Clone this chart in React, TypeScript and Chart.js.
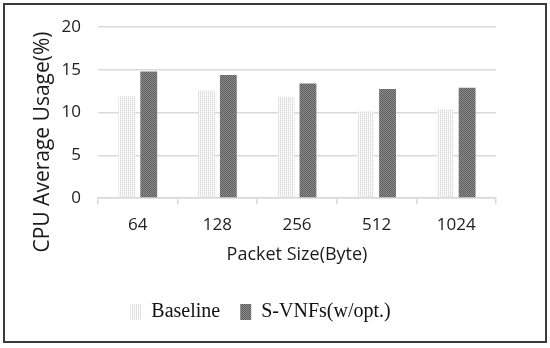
import React, { useEffect, useRef } from "react";
import { Chart, registerables } from "chart.js";

Chart.register(...registerables);

const categories = ["64", "128", "256", "512", "1024"];
const baselineValues = [11.9, 12.6, 11.85, 10.2, 10.4];
const svnfValues = [14.8, 14.4, 13.4, 12.75, 12.9];
const seriesNames = ["Baseline", "S-VNFs(w/opt.)"];
const yTitle = "CPU Average Usage(%)";
const xTitle = "Packet Size(Byte)";

function makePattern(kind: "light" | "dark"): CanvasPattern | string {
  const c = document.createElement("canvas");
  c.width = 2;
  c.height = 2;
  const ctx = c.getContext("2d");
  if (!ctx) return kind === "light" ? "#eeeeee" : "#777777";
  if (kind === "light") {
    ctx.fillStyle = "#fbfbfb";
    ctx.fillRect(0, 0, 2, 2);
    ctx.fillStyle = "#d6d6d6";
    ctx.fillRect(0, 0, 1, 1);
    ctx.fillStyle = "#ececec";
    ctx.fillRect(0, 1, 1, 1);
  } else {
    ctx.fillStyle = "#8c8c8c";
    ctx.fillRect(0, 0, 2, 2);
    ctx.fillStyle = "#5e5e5e";
    ctx.fillRect(0, 0, 1, 1);
    ctx.fillRect(1, 1, 1, 1);
  }
  return ctx.createPattern(c, "repeat") as CanvasPattern;
}

const framePlugin = {
  id: "frame",
  afterDraw(chart: any) {
    const ctx = chart.ctx;
    ctx.save();
    ctx.strokeStyle = "#3a3a3a";
    ctx.lineWidth = 2;
    ctx.strokeRect(4, 4, 542, 338);
    // rotated y-axis title
    ctx.translate(43, 142);
    ctx.rotate(-Math.PI / 2);
    ctx.fillStyle = "#1a1a1a";
    ctx.font = "21px 'Open Sans'";
    ctx.textAlign = "center";
    ctx.textBaseline = "middle";
    ctx.fillText(yTitle, 0, 0);
    ctx.restore();
  },
};

export default function App() {
  const ref = useRef<HTMLCanvasElement | null>(null);
  useEffect(() => {
    if (!ref.current) return;
    const light = makePattern("light");
    const dark = makePattern("dark");
    const chart = new Chart(ref.current, {
      type: "bar",
      data: {
        labels: categories,
        datasets: [
          {
            label: seriesNames[0],
            data: baselineValues,
            backgroundColor: light as any,
            borderWidth: 0,
            categoryPercentage: 0.55,
            barPercentage: 0.77,
          },
          {
            label: seriesNames[1],
            data: svnfValues,
            backgroundColor: dark as any,
            borderWidth: 0,
            categoryPercentage: 0.55,
            barPercentage: 0.77,
          },
        ],
      },
      options: {
        animation: false,
        responsive: false,
        maintainAspectRatio: false,
        layout: { padding: { left: 25, right: 54, top: 27, bottom: 16 } },
        plugins: {
          tooltip: { enabled: false },
          legend: {
            position: "bottom",
            labels: {
              font: { family: "Liberation Serif", size: 20 },
              color: "#111111",
              boxWidth: 11,
              boxHeight: 16,
              padding: 20,
            },
          },
        },
        scales: {
          x: {
            grid: {
              display: true,
              drawOnChartArea: false,
              drawTicks: true,
              tickLength: 6,
              color: "#d9d9d9",
              lineWidth: 1.5,
            },
            border: { display: true, color: "#d9d9d9", width: 1.5 },
            ticks: {
              font: { family: "Open Sans", size: 17 },
              color: "#222222",
              padding: 11,
            },
            title: {
              display: true,
              text: xTitle,
              font: { family: "Open Sans", size: 18 },
              color: "#1a1a1a",
              padding: { top: 2, bottom: 16 },
            },
            afterFit: (s: any) => {
              s.height = 84;
            },
          },
          y: {
            min: 0,
            max: 20,
            ticks: {
              stepSize: 5,
              font: { family: "Open Sans", size: 17 },
              color: "#222222",
              padding: 17,
            },
            grid: {
              color: "#d9d9d9",
              lineWidth: 1.5,
              drawTicks: false,
              tickLength: 0,
            },
            border: { display: false },
            afterFit: (s: any) => {
              s.width = 73;
            },
          },
        },
      },
      plugins: [framePlugin],
    });
    return () => chart.destroy();
  }, []);
  return (
    <div style={{ position: "absolute", left: 0, top: 0, width: 550, height: 348, background: "#fff" }}>
      <canvas ref={ref} width={550} height={348} style={{ display: "block" }} />
    </div>
  );
}
